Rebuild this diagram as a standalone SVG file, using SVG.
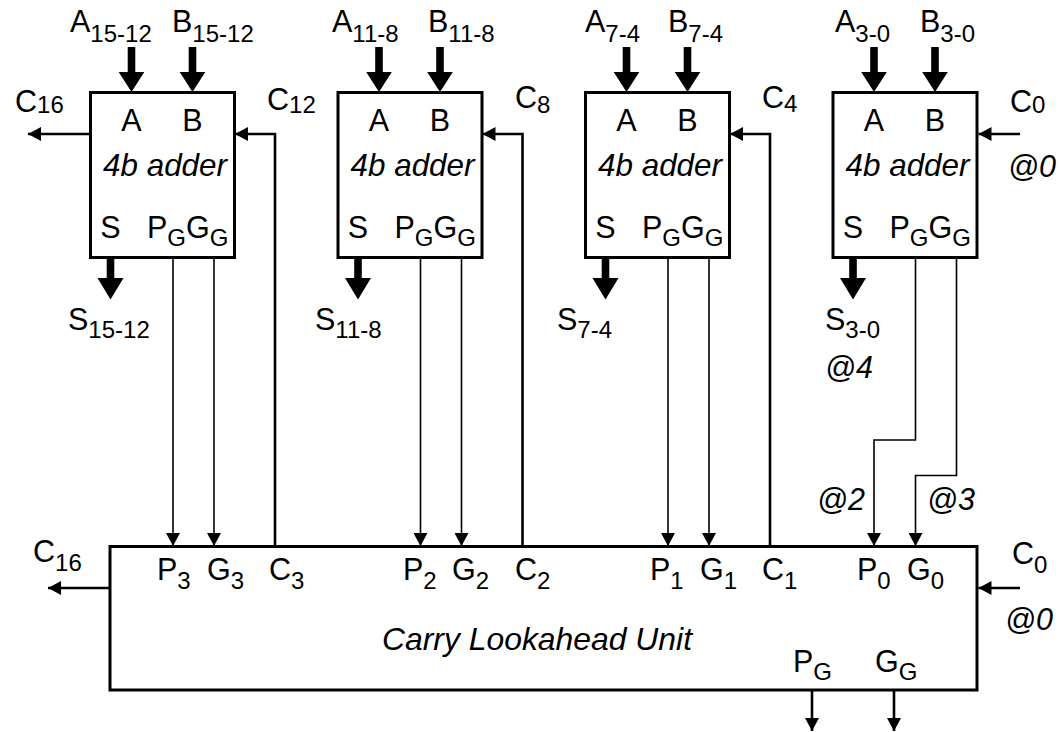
<svg xmlns="http://www.w3.org/2000/svg" width="1063" height="732" viewBox="0 0 1063 732">
  <style>
    .lb { font-family: "Liberation Sans", Arial, Helvetica, sans-serif; font-size: 30.5px; fill: #000; }
    .it { font-style: italic; }
    .sb { font-size: 24px; }
    .box { fill: none; stroke: #000; stroke-width: 3; }
    .sig { fill: none; stroke: #000; stroke-width: 1.6; }
    .car { fill: none; stroke: #000; stroke-width: 2.6; }
    .bus { fill: #000; stroke: none; }
  </style>
  <defs>
    <marker id="ah" viewBox="0 0 13 14" refX="13" refY="7" markerWidth="13" markerHeight="14" markerUnits="userSpaceOnUse" orient="auto">
      <path d="M0,0 L13,7 L0,14 Z" fill="#000"/>
    </marker>
    <!-- wide bus arrow pointing down, tip at (0,0) -->
    <path id="busDown" d="M-3.8,-45 L3.8,-45 L3.8,-20 L12.8,-20 L0,0 L-12.8,-20 L-3.8,-20 Z"/>
  </defs>

  <rect x="0" y="0" width="1063" height="732" fill="#fff"/>

  <!-- 4-bit adder blocks -->
  <g id="adder-15-12" transform="translate(90.5,92.5)">
    <rect class="box" x="0" y="0" width="144" height="165"/>
    <text class="lb" x="41" y="38.5" text-anchor="middle">A</text>
    <text class="lb" x="102" y="38.5" text-anchor="middle">B</text>
    <text class="lb it" x="12.5" y="83.5" textLength="124" lengthAdjust="spacingAndGlyphs">4b adder</text>
    <text class="lb" x="20" y="145.5" text-anchor="middle">S</text>
    <text class="lb" x="56.5" y="145.5">P<tspan class="sb" dy="8">G</tspan><tspan dy="-8">G</tspan><tspan class="sb" dy="8">G</tspan></text>
  </g>
  <g id="adder-11-8" transform="translate(338,92.5)">
    <rect class="box" x="0" y="0" width="144" height="165"/>
    <text class="lb" x="41" y="38.5" text-anchor="middle">A</text>
    <text class="lb" x="102" y="38.5" text-anchor="middle">B</text>
    <text class="lb it" x="12.5" y="83.5" textLength="124" lengthAdjust="spacingAndGlyphs">4b adder</text>
    <text class="lb" x="20" y="145.5" text-anchor="middle">S</text>
    <text class="lb" x="56.5" y="145.5">P<tspan class="sb" dy="8">G</tspan><tspan dy="-8">G</tspan><tspan class="sb" dy="8">G</tspan></text>
  </g>
  <g id="adder-7-4" transform="translate(585.5,92.5)">
    <rect class="box" x="0" y="0" width="144" height="165"/>
    <text class="lb" x="41" y="38.5" text-anchor="middle">A</text>
    <text class="lb" x="102" y="38.5" text-anchor="middle">B</text>
    <text class="lb it" x="12.5" y="83.5" textLength="124" lengthAdjust="spacingAndGlyphs">4b adder</text>
    <text class="lb" x="20" y="145.5" text-anchor="middle">S</text>
    <text class="lb" x="56.5" y="145.5">P<tspan class="sb" dy="8">G</tspan><tspan dy="-8">G</tspan><tspan class="sb" dy="8">G</tspan></text>
  </g>
  <g id="adder-3-0" transform="translate(833,92.5)">
    <rect class="box" x="0" y="0" width="144" height="165"/>
    <text class="lb" x="41" y="38.5" text-anchor="middle">A</text>
    <text class="lb" x="102" y="38.5" text-anchor="middle">B</text>
    <text class="lb it" x="12.5" y="83.5" textLength="124" lengthAdjust="spacingAndGlyphs">4b adder</text>
    <text class="lb" x="20" y="145.5" text-anchor="middle">S</text>
    <text class="lb" x="56.5" y="145.5">P<tspan class="sb" dy="8">G</tspan><tspan dy="-8">G</tspan><tspan class="sb" dy="8">G</tspan></text>
  </g>

  <!-- carry lookahead unit -->
  <g id="clu">
    <rect class="box" x="110" y="546.5" width="867" height="143.5"/>
    <text class="lb" x="157" y="580">P<tspan class="sb" dy="9">3</tspan></text>
    <text class="lb" x="207" y="580">G<tspan class="sb" dy="9">3</tspan></text>
    <text class="lb" x="269" y="580">C<tspan class="sb" dy="9">3</tspan></text>
    <text class="lb" x="403" y="580">P<tspan class="sb" dy="9">2</tspan></text>
    <text class="lb" x="452" y="580">G<tspan class="sb" dy="9">2</tspan></text>
    <text class="lb" x="515" y="580">C<tspan class="sb" dy="9">2</tspan></text>
    <text class="lb" x="650" y="580">P<tspan class="sb" dy="9">1</tspan></text>
    <text class="lb" x="700" y="580">G<tspan class="sb" dy="9">1</tspan></text>
    <text class="lb" x="762" y="580">C<tspan class="sb" dy="9">1</tspan></text>
    <text class="lb" x="857" y="580">P<tspan class="sb" dy="9">0</tspan></text>
    <text class="lb" x="907" y="580">G<tspan class="sb" dy="9">0</tspan></text>
    <text class="lb it" x="382" y="650" textLength="310" lengthAdjust="spacingAndGlyphs">Carry Lookahead Unit</text>
    <text class="lb" x="793" y="672">P<tspan class="sb" dy="8">G</tspan></text>
    <text class="lb" x="875" y="672">G<tspan class="sb" dy="8">G</tspan></text>
  </g>

  <!-- connectors -->
  <g id="connectors">
    <!-- A / B operand buses -->
    <use href="#busDown" class="bus" x="131.5" y="92"/>
    <use href="#busDown" class="bus" x="192.5" y="92"/>
    <use href="#busDown" class="bus" x="379" y="92"/>
    <use href="#busDown" class="bus" x="440" y="92"/>
    <use href="#busDown" class="bus" x="626.5" y="92"/>
    <use href="#busDown" class="bus" x="687.5" y="92"/>
    <use href="#busDown" class="bus" x="874" y="92"/>
    <use href="#busDown" class="bus" x="935" y="92"/>
    <!-- sum buses -->
    <path class="bus" d="M106.7,257 L114.3,257 L114.3,278 L123.5,278 L110.5,299.5 L97.5,278 L106.7,278 Z"/>
    <path class="bus" d="M354.2,257 L361.8,257 L361.8,278 L371,278 L358,299.5 L345,278 L354.2,278 Z"/>
    <path class="bus" d="M601.7,257 L609.3,257 L609.3,278 L618.5,278 L605.5,299.5 L592.5,278 L601.7,278 Z"/>
    <path class="bus" d="M849.2,257 L856.8,257 L856.8,278 L866,278 L853,299.5 L840,278 L849.2,278 Z"/>

    <!-- group propagate / generate to CLU -->
    <line class="sig" x1="173" y1="258" x2="173" y2="546" marker-end="url(#ah)"/>
    <line class="sig" x1="214" y1="258" x2="214" y2="546" marker-end="url(#ah)"/>
    <line class="sig" x1="420.5" y1="258" x2="420.5" y2="546" marker-end="url(#ah)"/>
    <line class="sig" x1="461.5" y1="258" x2="461.5" y2="546" marker-end="url(#ah)"/>
    <line class="sig" x1="668" y1="258" x2="668" y2="546" marker-end="url(#ah)"/>
    <line class="sig" x1="709" y1="258" x2="709" y2="546" marker-end="url(#ah)"/>
    <polyline class="sig" points="915.5,258 915.5,440 874,440 874,546" marker-end="url(#ah)"/>
    <polyline class="sig" points="956.5,258 956.5,475.5 915.5,475.5 915.5,546" marker-end="url(#ah)"/>

    <!-- carries from CLU back into adders -->
    <polyline class="car" points="275,546 275,134 235,134" marker-end="url(#ah)"/>
    <polyline class="car" points="522.5,546 522.5,134 482.5,134" marker-end="url(#ah)"/>
    <polyline class="car" points="770,546 770,134 730,134" marker-end="url(#ah)"/>

    <!-- carry in / carry out -->
    <line class="car" x1="90" y1="134" x2="28" y2="134" marker-end="url(#ah)"/>
    <line class="car" x1="1020" y1="134" x2="978.5" y2="134" marker-end="url(#ah)"/>
    <line class="car" x1="110" y1="588" x2="48" y2="588" marker-end="url(#ah)"/>
    <line class="car" x1="1020" y1="588" x2="978.5" y2="588" marker-end="url(#ah)"/>

    <!-- group outputs of CLU -->
    <line class="car" x1="812" y1="691" x2="812" y2="731" marker-end="url(#ah)"/>
    <line class="car" x1="894" y1="691" x2="894" y2="731" marker-end="url(#ah)"/>
  </g>

  <!-- signal labels -->
  <g id="labels">
    <text class="lb" x="70" y="32">A<tspan class="sb" dy="10">15-12</tspan></text>
    <text class="lb" x="172" y="32">B<tspan class="sb" dy="10">15-12</tspan></text>
    <text class="lb" x="332" y="32">A<tspan class="sb" dy="10">11-8</tspan></text>
    <text class="lb" x="428" y="32">B<tspan class="sb" dy="10">11-8</tspan></text>
    <text class="lb" x="585" y="32">A<tspan class="sb" dy="10">7-4</tspan></text>
    <text class="lb" x="668" y="32">B<tspan class="sb" dy="10">7-4</tspan></text>
    <text class="lb" x="835" y="32">A<tspan class="sb" dy="10">3-0</tspan></text>
    <text class="lb" x="920" y="32">B<tspan class="sb" dy="10">3-0</tspan></text>

    <text class="lb" x="15" y="112">C<tspan class="sb" dy="1">16</tspan></text>
    <text class="lb" x="267" y="110">C<tspan class="sb" dy="3">12</tspan></text>
    <text class="lb" x="515" y="108">C<tspan class="sb" dy="5">8</tspan></text>
    <text class="lb" x="762" y="108">C<tspan class="sb" dy="4">4</tspan></text>
    <text class="lb" x="1010" y="112">C<tspan class="sb" dy="1">0</tspan></text>
    <text class="lb it" x="1008" y="177">@0</text>

    <text class="lb" x="68" y="330">S<tspan class="sb" dy="8">15-12</tspan></text>
    <text class="lb" x="315" y="330">S<tspan class="sb" dy="8">11-8</tspan></text>
    <text class="lb" x="557" y="330">S<tspan class="sb" dy="8">7-4</tspan></text>
    <text class="lb" x="825" y="330">S<tspan class="sb" dy="8">3-0</tspan></text>
    <text class="lb it" x="825" y="378">@4</text>

    <text class="lb it" x="817" y="510">@2</text>
    <text class="lb it" x="927" y="510">@3</text>

    <text class="lb" x="33" y="562">C<tspan class="sb" dy="9">16</tspan></text>
    <text class="lb" x="1012" y="564">C<tspan class="sb" dy="9">0</tspan></text>
    <text class="lb it" x="1005" y="630">@0</text>
  </g>
</svg>
